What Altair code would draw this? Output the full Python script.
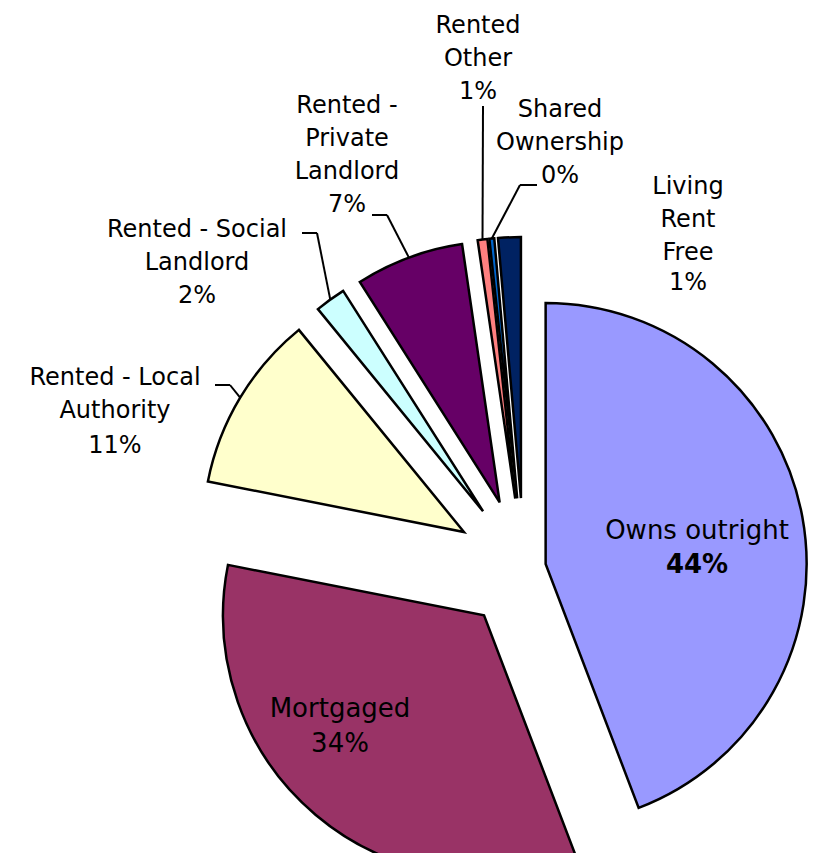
import math
import altair as alt
import pandas as pd

# ---- data ----
categories = [
    "Owns outright", "Mortgaged", "Rented - Local Authority", "Rented - Social Landlord",
    "Rented - Private Landlord", "Rented Other", "Shared Ownership", "Living Rent Free",
]
label_names = [
    "Owns outright", "Mortgaged", "Rented - Local\nAuthority", "Rented - Social\nLandlord",
    "Rented -\nPrivate\nLandlord", "Rented\nOther", "Shared\nOwnership", "Living\nRent\nFree",
]
shares = [44.2, 33.9, 11.0, 1.9, 6.7, 0.6, 0.3, 1.4]

# ---- style / layout ----
colors = ["#9999FF", "#993366", "#FFFFCC", "#CCFFFF", "#660066", "#FF8080", "#0066CC", "#002262"]
CX, CY, R = 516, 560, 261
explode = [22, 62, 70, 70, 70, 70, 70, 70]
inside = [True, True, False, False, False, False, False, False]
label_x = [689, 332, 107, 189, 339, 470, 552, 680]
label_y = [531, 709, 377, 229, 105, 25, 109, 186]
line_h = [34, 35, 34, 33, 33, 33, 33, 32]
nan = float("nan")
lead_x0 = [nan, nan, 207, 294, 364, 475, 529, nan]
lead_x1 = [nan, nan, 222, 309, 379, 475, 512, nan]
lead_y = [nan, nan, 377, 225, 207, 98, 177, nan]

df = pd.DataFrame({
    "category": categories,
    "name": label_names,
    "value": shares,
    "order": list(range(len(categories))),
    "explode": explode,
    "inside": inside,
    "lx": label_x,
    "ly": label_y,
    "lh": line_h,
    "x0": lead_x0,
    "x1": lead_x1,
    "yl": lead_y,
})

base = (
    alt.Chart(df)
    .transform_joinaggregate(total="sum(value)")
    .transform_window(cum="sum(value)", sort=[alt.SortField("order", order="ascending")], frame=[None, 0])
    .transform_calculate(
        t0="(datum.cum - datum.value) / datum.total",
        t1="datum.cum / datum.total",
        mid="2 * PI * (datum.cum - datum.value / 2) / datum.total",
    )
    .transform_calculate(
        cx=f"{CX} + datum.explode * sin(datum.mid)",
        cy=f"{CY} - datum.explode * cos(datum.mid)",
        ex=f"{CX} + (datum.explode + {R}) * sin(datum.mid)",
        ey=f"{CY} - (datum.explode + {R}) * cos(datum.mid)",
        pct="format(datum.value / datum.total, '.0%')",
        py="datum.ly + datum.lh * length(split(datum.name, '\\n'))",
    )
)

arcs = base.mark_arc(radius=R, stroke="black", strokeWidth=2.5).encode(
    theta=alt.Theta("t0:Q", scale=alt.Scale(domain=[0, 1], range=[0, 2 * math.pi]), stack=None),
    theta2=alt.Theta2("t1:Q"),
    x=alt.X("cx:Q", scale=None, axis=None),
    y=alt.Y("cy:Q", scale=None, axis=None),
    color=alt.Color("category:N", scale=alt.Scale(domain=categories, range=colors), legend=None),
)

leaders = base.transform_filter("isValid(datum.x0)")
lead_h = leaders.mark_rule(color="black", strokeWidth=2).encode(
    x=alt.X("x0:Q", scale=None, axis=None),
    x2="x1:Q",
    y=alt.Y("yl:Q", scale=None, axis=None),
)
lead_d = leaders.mark_rule(color="black", strokeWidth=2).encode(
    x=alt.X("x1:Q", scale=None, axis=None),
    x2="ex:Q",
    y=alt.Y("yl:Q", scale=None, axis=None),
    y2="ey:Q",
)

FONT = "DejaVu Sans"
OUT_FS = 24
outer = base.transform_filter("!datum.inside")
outer_names = outer.mark_text(font=FONT, fontSize=OUT_FS, lineHeight=33, lineBreak="\n",
                              align="center", baseline="alphabetic", color="black").encode(
    x=alt.X("lx:Q", scale=None, axis=None), y=alt.Y("ly:Q", scale=None, axis=None), text="name:N")
outer_pct = outer.mark_text(font=FONT, fontSize=OUT_FS, align="center", baseline="alphabetic",
                            color="black").encode(
    x=alt.X("lx:Q", scale=None, axis=None), y=alt.Y("py:Q", scale=None, axis=None), text="pct:N")

inner = base.transform_filter("datum.inside")
inner_names = inner.mark_text(font=FONT, fontSize=26, lineBreak="\n", align="center",
                              baseline="alphabetic", color="black").encode(
    x=alt.X("lx:Q", scale=None, axis=None), y=alt.Y("ly:Q", scale=None, axis=None), text="name:N")
inner_pct_bold = inner.transform_filter("datum.category == 'Owns outright'").mark_text(
    font=FONT, fontSize=26, fontWeight="bold", align="center", baseline="alphabetic", color="black"
).encode(x=alt.X("lx:Q", scale=None, axis=None), y=alt.Y("py:Q", scale=None, axis=None), text="pct:N")
inner_pct = inner.transform_filter("datum.category != 'Owns outright'").mark_text(
    font=FONT, fontSize=26, align="center", baseline="alphabetic", color="black"
).encode(x=alt.X("lx:Q", scale=None, axis=None), y=alt.Y("py:Q", scale=None, axis=None), text="pct:N")

chart = (
    alt.layer(arcs, lead_h, lead_d, outer_names, outer_pct, inner_names, inner_pct_bold, inner_pct)
    .properties(width=800, height=845, autosize="none", padding=0)
    .configure_view(stroke=None)
)

chart.save("out.html", embed_options={"renderer": "svg", "actions": False})
